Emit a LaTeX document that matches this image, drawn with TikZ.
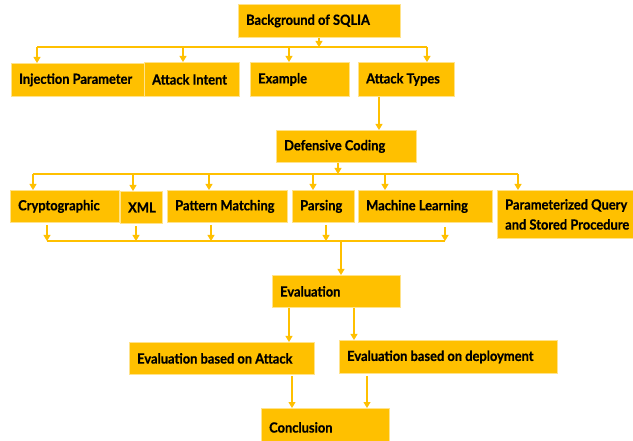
\documentclass[tikz,border=0pt]{standalone}
\usepackage{fontspec}
\setmainfont[FakeStretch=0.92,BoldFeatures={FakeBold=0.6}]{Lato}
\usetikzlibrary{arrows.meta}
\definecolor{gold}{HTML}{FFC000}
\newcommand\bx[6]{%
  \node[box, minimum width={#4-#2}, minimum height={#5-#3}] (#1) at (#2,#3) {};
  \node[lbl] (#1t) at ([xshift=8pt]#1.west) {#6};}
\begin{document}
\begin{tikzpicture}[x=1pt,y=-1pt,
  box/.style={fill=gold, draw=gold!45!white, line width=0.8pt, anchor=north west, inner sep=0pt},
  lbl/.style={anchor=west, inner sep=0pt, align=left, font=\bfseries\fontsize{14}{20}\selectfont},
  conn/.style={draw=gold, line width=1.1pt},
  arr/.style={conn, -{Triangle[width=7pt,length=6pt]}}]
\useasboundingbox (0,0) rectangle (633,441);
\clip (0,0) rectangle (633,441);
\fill[white] (0,0) rectangle (633,441);
% boxes
\bx{bg}{238}{4}{400}{37}{Background of SQLIA}
\bx{inj}{11}{63}{145}{96}{Injection Parameter}
\bx{intent}{144}{62}{239}{96}{Attack Intent}
\bx{ex}{250}{62}{349}{96}{Example}
\bx{types}{358}{62}{454}{96}{Attack Types}
\bx{def}{276}{130}{416}{162}{Defensive Coding}
\bx{cry}{10}{190}{119}{222}{Cryptographic}
\bx{xml}{120}{191}{162}{223}{XML}
\bx{pat}{167}{190}{287}{222}{Pattern Matching}
\bx{par}{292}{190}{354}{222}{Parsing}
\bx{ml}{358}{190}{492}{222}{Machine Learning}
\bx{pq}{497}{190}{645}{238}{Parameterized Query\\and Stored Procedure}
\bx{ev}{272}{275}{400}{307}{Evaluation}
\bx{eva}{129}{342}{314}{374}{Evaluation based on Attack}
\bx{evd}{339}{340}{557}{373}{Evaluation based on deployment}
\bx{con}{261}{408}{389}{446}{Conclusion}
% top bus
\coordinate (j1) at (319,47);
\coordinate (b1l) at (37,47);
\coordinate (b1r) at (427,47);
\coordinate (b1a) at (183,47);
\coordinate (b1b) at (289,47);
\draw[arr] (bg.south -| j1) -- (j1);
\draw[conn] (b1l) -- (b1r);
\draw[arr] (b1l) -- (b1l |- inj.north);
\draw[arr] (b1a) -- (b1a |- intent.north);
\draw[arr] (b1b) -- (b1b |- ex.north);
\draw[arr] (b1r) -- (b1r |- types.north);
% types to defensive coding
\draw[arr] ([xshift=21pt]types.south west) -- ([xshift=21pt]types.south west |- def.north);
% second bus
\coordinate (j2) at (338,174);
\coordinate (b2l) at (33,174);
\coordinate (b2r) at (518,174);
\coordinate (b2a) at (133,174);
\coordinate (b2b) at (209,174);
\coordinate (b2c) at (313,174);
\coordinate (b2d) at (385,174);
\draw[arr] (def.south -| j2) -- (j2);
\draw[conn] (b2l) -- (b2r);
\draw[arr] (b2l) -- (b2l |- cry.north);
\draw[arr] (b2a) -- (b2a |- xml.north);
\draw[arr] (b2b) -- (b2b |- pat.north);
\draw[arr] (b2c) -- (b2c |- par.north);
\draw[arr] (b2d) -- (b2d |- ml.north);
\draw[arr] (b2r) -- (b2r |- pq.north);
% third bus
\coordinate (b3l) at (47,241);
\coordinate (b3a) at (136,241);
\coordinate (b3b) at (211,241);
\coordinate (b3c) at (326,241);
\coordinate (b3r) at (445,241);
\coordinate (j3) at (341,241);
\draw[conn] (b3l) -- (b3r);
\draw[arr] ([yshift=-2pt]cry.south -| b3l) -- (b3l);
\draw[arr] ([yshift=-2pt]xml.south -| b3a) -- (b3a);
\draw[arr] ([yshift=-2pt]pat.south -| b3b) -- (b3b);
\draw[arr] ([yshift=-2pt]par.south -| b3c) -- (b3c);
\draw[arr] ([yshift=-4pt]ml.south -| b3r) -- (b3r);
\draw[arr] (j3) -- (j3 |- ev.north);
% evaluation branches
\draw[arr] ([xshift=17pt]ev.south west) -- ([xshift=17pt]ev.south west |- eva.north);
\draw[arr] ([xshift=82pt]ev.south west) -- ([xshift=82pt]ev.south west |- evd.north);
\draw[arr] ([xshift=163pt,yshift=-1pt]eva.south west) -- ([xshift=163pt]eva.south west |- con.north);
\draw[arr] ([xshift=28pt,yshift=-2pt]evd.south west) -- ([xshift=28pt]evd.south west |- con.north);
\end{tikzpicture}
\end{document}
